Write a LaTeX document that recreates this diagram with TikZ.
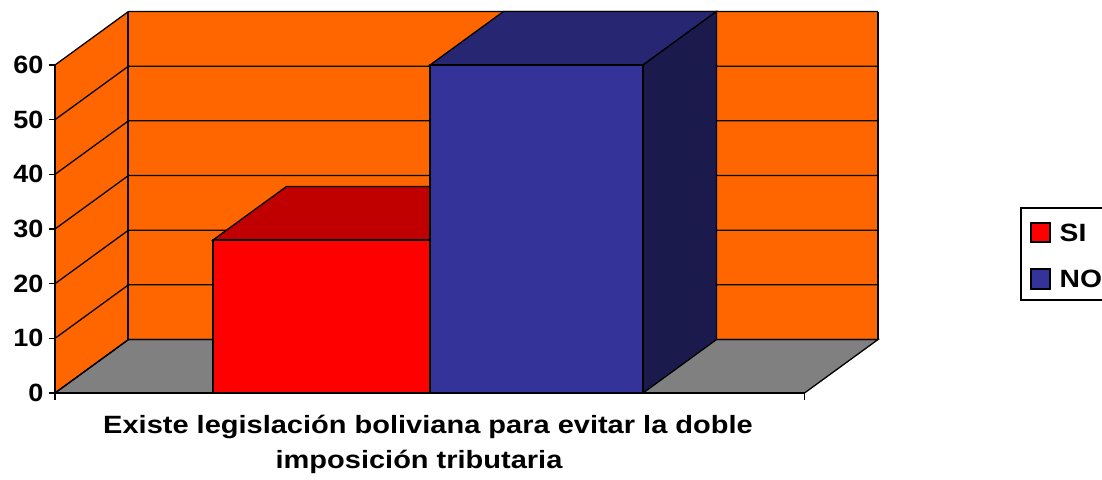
\documentclass[tikz,border=0pt]{standalone}
\usepackage{fontspec}
\setmainfont{Liberation Sans}
\definecolor{wallor}{HTML}{FF6600}
\definecolor{floorg}{HTML}{808080}
\definecolor{redf}{HTML}{FF0000}
\definecolor{redt}{HTML}{C00000}
\definecolor{bluef}{HTML}{333399}
\definecolor{bluet}{HTML}{262673}
\definecolor{blues}{HTML}{1A1A4D}
\begin{document}
\begin{tikzpicture}[x=1pt,y=-1pt,line width=1.3pt,line join=miter,
  lbl/.style={font=\fontsize{25}{30}\selectfont\bfseries,inner sep=0pt}]
\useasboundingbox (0,0) rectangle (1102,479);
\clip (0,0) rectangle (1102,479);
% back wall
\fill[wallor] (128,12) rectangle (878,339.5);
% left wall
\fill[wallor] (55,65) -- (128,11.5) -- (128,339.5) -- (55,393) -- cycle;
% floor
\filldraw[fill=floorg] (55,393) -- (128.5,339.5) -- (878,339.5) -- (804.5,393) -- cycle;
% grid lines
\foreach \v in {0,10,...,60}{
  \draw (55,{393-5.4667*\v}) -- ++(73.5,-53.5) -- (878,{393-5.4667*\v-53.5});
}
\draw (128,12) -- (128,339.5);
\draw (878,12) -- (878,339.5);
\draw (55,65) -- (55,400);
% SI bar
\filldraw[fill=redt] (213,240) -- (286.5,186.5) -- (503.5,186.5) -- (430,240) -- cycle;
\filldraw[fill=redf] (213,240) rectangle (430,393);
% NO bar
\filldraw[fill=bluet] (430,65) -- (503.5,11.5) -- (716.5,11.5) -- (643,65) -- cycle;
\filldraw[fill=blues] (643,65) -- (716.5,11.5) -- (716.5,339.5) -- (643,393) -- cycle;
\filldraw[fill=bluef] (430,65) rectangle (643,393);
% axes
\draw (55,393) -- (804.5,393);
\draw (804.5,393) -- (804.5,400);
\foreach \v in {0,10,...,60}{
  \draw (49,{393-5.4667*\v}) -- (55,{393-5.4667*\v});
  \node[lbl,anchor=east] (t\v) at (44,{393-5.4667*\v}) {\scalebox{1.08}[1]{\v}};
}
% title
\node[lbl,anchor=base] (title1) at (428,433) {\scalebox{1.16}[1]{Existe legislación boliviana para evitar la doble}};
\node[lbl,anchor=base] (title2) at (419,468) {\scalebox{1.16}[1]{imposición tributaria}};
% legend
\draw (1021,208) rectangle (1120,300);
\filldraw[fill=redf] (1031,223) rectangle (1050,242);
\filldraw[fill=bluef] (1031,269) rectangle (1050,289);
\node[lbl,anchor=west] (lsi) at (1059,233) {\scalebox{1.13}[1]{SI}};
\node[lbl,anchor=west] (lno) at (1059,279) {\scalebox{1.13}[1]{NO}};
\end{tikzpicture}
\end{document}
